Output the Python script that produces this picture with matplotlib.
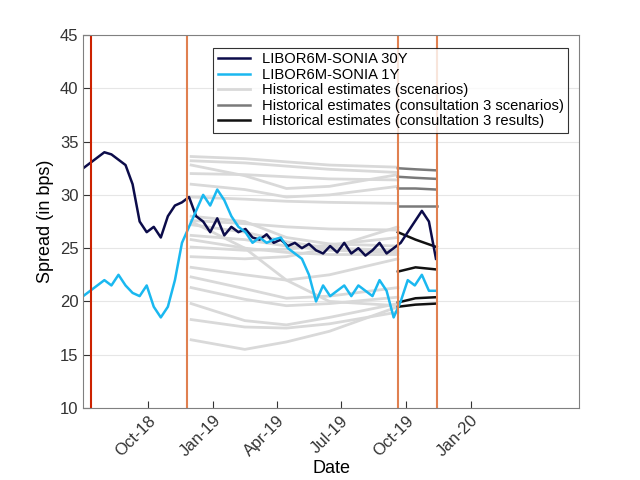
import numpy as np
import pandas as pd
from matplotlib import pyplot as plt
import matplotlib.dates as mdates

plt.rcParams['font.family'] = ['Liberation Sans', 'DejaVu Sans']

# market spreads, one value every 10 days from 1 Jul 2018
start_ = '2018-07-01'
libor_30y_ = [32.5, 33, 33.5, 34, 33.8, 33.3, 32.8, 31, 27.5, 26.5, 27, 26, 28, 29, 29.3, 29.8,
              28, 27.5, 26.5, 27.8, 26.2, 27, 26.5, 26.8, 26, 25.8, 26.3, 25.5, 25.8, 25.2, 25.5,
              25, 25.4, 24.8, 24.5, 25.2, 24.6, 25.5, 24.5, 25, 24.3, 24.8, 25.5, 24.5, 25, 25.5,
              26.5, 27.5, 28.5, 27.5, 24]
libor_1y_ = [20.5, 21, 21.5, 22, 21.5, 22.5, 21.5, 20.8, 20.5, 21.5, 19.5, 18.5, 19.5, 22, 25.5, 27,
             28.5, 30, 29, 30.5, 29.5, 28, 27, 26.5, 25.5, 26, 25.5, 25.8, 26, 25, 24.5, 24, 22.5,
             20, 21.5, 20.5, 21, 21.5, 20.5, 21.5, 21, 20.5, 22, 21, 18.5, 20, 22, 21.5, 22.5, 21, 21]

# historical estimates (scenarios)
scen_dates_ = ['2018-12-01', '2019-02-15', '2019-04-15', '2019-06-15', '2019-09-20']
scenarios_ = [
    [33.6, 33.4, 33.1, 32.8, 32.6],
    [33.2, 33.0, 32.7, 32.4, 32.1],
    [32.8, 31.8, 30.6, 30.8, 31.9],
    [32.0, 31.9, 31.7, 31.5, 31.4],
    [31.0, 30.5, 29.8, 30.0, 30.8],
    [29.8, 29.6, 29.4, 29.3, 29.2],
    [27.6, 27.3, 27.0, 26.8, 26.7],
    [27.2, 26.5, 25.6, 25.0, 24.8],
    [26.2, 25.8, 25.2, 24.8, 24.6],
    [25.8, 25.0, 24.6, 24.4, 24.4],
    [25.1, 24.8, 24.9, 25.3, 26.0],
    [24.2, 24.0, 24.2, 25.0, 27.0],
    [23.2, 22.5, 22.0, 22.5, 24.0],
    [22.3, 21.2, 20.3, 20.5, 21.3],
    [21.3, 20.2, 19.6, 19.8, 20.4],
    [19.8, 18.2, 17.8, 18.5, 19.8],
    [18.3, 17.6, 17.5, 17.9, 19.0],
    [16.4, 15.5, 16.2, 17.2, 19.5],
    [27.5, 25.0, 22.0, 20.0, 19.6],
    [28.0, 27.5, 26.0, 25.4, 25.2],
]

# consultation 3
cons_dates_ = ['2019-09-20', '2019-10-15', '2019-11-14']
cons_scen_ = [[32.5, 32.4, 32.3], [31.7, 31.6, 31.5], [30.6, 30.6, 30.5], [29.0, 29.0, 29.0]]
cons_res_ = [[26.5, 25.8, 25.1], [22.8, 23.2, 23.0], [19.9, 20.3, 20.4], [19.5, 19.7, 19.8]]

# consultation dates
vlines_ = ['2018-07-12', '2018-11-25', '2019-09-20', '2019-11-14']

dates_ = pd.date_range(start_, periods=len(libor_30y_), freq='10D')
sd_ = pd.to_datetime(scen_dates_)
cd_ = pd.to_datetime(cons_dates_)

fig = plt.figure(figsize=(6.4, 4.8), dpi=100)
ax = fig.add_axes([0.13, 0.15, 0.775, 0.777])

for i, s in enumerate(scenarios_):
    ax.plot(sd_, s, color='#d9d9d9', lw=2, label='Historical estimates (scenarios)' if i == 0 else None)
for i, s in enumerate(cons_scen_):
    ax.plot(cd_, s, color='#7a7a7a', lw=1.8,
            label='Historical estimates (consultation 3 scenarios)' if i == 0 else None)
for i, s in enumerate(cons_res_):
    ax.plot(cd_, s, color='#111111', lw=1.8,
            label='Historical estimates (consultation 3 results)' if i == 0 else None)
ax.plot(dates_, libor_30y_, color='#0c0c4a', lw=1.8, label='LIBOR6M-SONIA 30Y')
ax.plot(dates_, libor_1y_, color='#1ab8f0', lw=1.8, label='LIBOR6M-SONIA 1Y')

for k, d in enumerate(vlines_):
    ax.axvline(pd.Timestamp(d), color='#cc2200' if k == 0 else '#e08050', lw=1.5)

ax.set_xlim(pd.Timestamp('2018-07-01'), pd.Timestamp('2020-06-03'))
ax.set_ylim(10, 45)
ax.set_xticks(pd.to_datetime(['2018-10-01', '2019-01-01', '2019-04-01', '2019-07-01',
                              '2019-10-01', '2020-01-01']))
ax.xaxis.set_major_formatter(mdates.DateFormatter('%b-%y'))
plt.setp(ax.get_xticklabels(), rotation=45, ha='right', rotation_mode='anchor')
ax.tick_params(direction='in', colors='#333333', labelsize=12, length=5)
ax.yaxis.grid(True, color='#e6e6e6', lw=0.8)
for sp in ax.spines.values():
    sp.set_color('#808080')
ax.set_xlabel('Date', fontsize=13, labelpad=0)
ax.set_ylabel('Spread (in bps)', fontsize=13)

h, l = ax.get_legend_handles_labels()
order = [3, 4, 0, 1, 2]
leg = ax.legend([h[i] for i in order], [l[i] for i in order], loc='upper right',
                bbox_to_anchor=(0.993, 0.985), fontsize=10.6, frameon=True, fancybox=False,
                borderpad=0.3, labelspacing=0.1, handlelength=2.2)
leg.get_frame().set_edgecolor('black')
leg.get_frame().set_linewidth(0.8)

fig.savefig('out.png')
